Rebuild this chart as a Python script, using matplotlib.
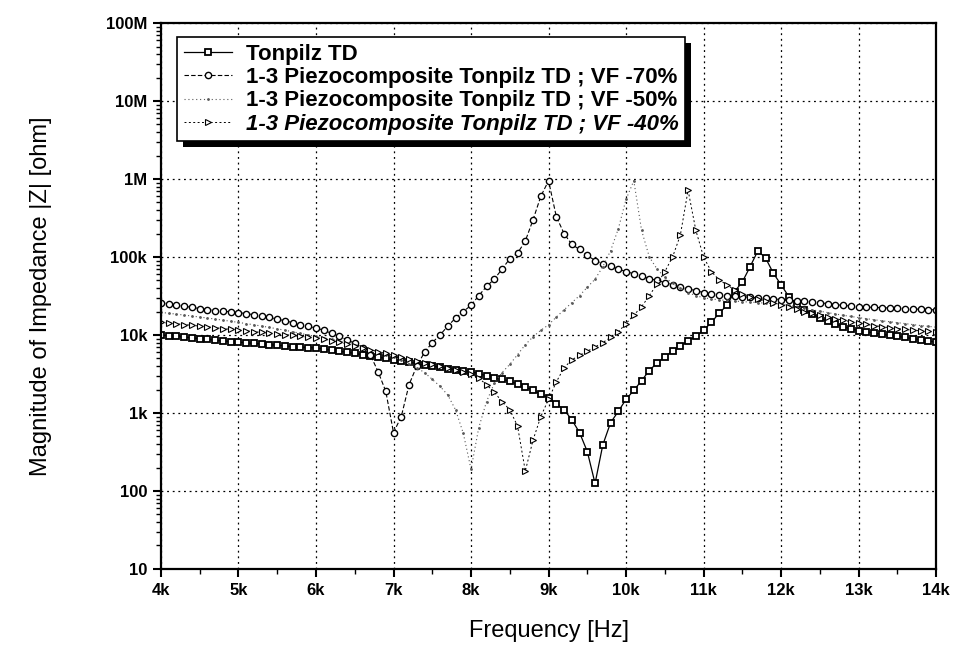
"""Impedance magnitude vs frequency: Tonpilz TD and 1-3 piezocomposite variants."""

import matplotlib
matplotlib.use("Agg")
import matplotlib.pyplot as plt
from matplotlib.patches import Rectangle
from matplotlib.ticker import FixedLocator, LogLocator, NullFormatter
import numpy as np

# Frequency axis in kHz, 100 Hz step
freq_khz = [round(4.0 + 0.1 * i, 1) for i in range(101)]

tonpilz = [
    10000, 9800, 9600, 9400, 9200, 9000, 8800, 8600, 8400, 8250,
    8100, 7950, 7800, 7650, 7500, 7400, 7250, 7100, 7000, 6900,
    6800, 6600, 6400, 6200, 6000, 5800, 5600, 5400, 5200, 5000,
    4800, 4650, 4500, 4300, 4100, 4000, 3850, 3700, 3600, 3500,
    3400, 3200, 3000, 2850, 2700, 2550, 2350, 2150, 1950, 1750,
    1550, 1300, 1100, 820, 560, 320, 125, 390, 750, 1050,
    1500, 1950, 2600, 3500, 4400, 5200, 6300, 7200, 8500, 9600,
    11500, 14500, 19000, 24000, 36000, 48000, 75000, 120000, 97000, 62000,
    44000, 31000, 25000, 21000, 18500, 16500, 15000, 13800, 12800, 12000,
    11400, 11000, 10600, 10200, 9900, 9600, 9300, 9000, 8700, 8400,
    8100,
]

vf70 = [
    26000, 25000, 24200, 23400, 22600, 21800, 21200, 20600, 20200, 19800,
    19400, 18800, 18200, 17500, 16800, 16000, 15200, 14400, 13600, 12900,
    12300, 11500, 10500, 9600, 8700, 7800, 6900, 5600, 3400, 1900,
    560, 900, 2300, 4000, 6000, 8000, 10000, 13000, 16500, 20000,
    24000, 32000, 42000, 52000, 70000, 95000, 112000, 160000, 300000, 600000,
    950000, 330000, 200000, 145000, 125000, 105000, 90000, 82000, 76000, 70000,
    65000, 61000, 57000, 53000, 50000, 47000, 44000, 41000, 39000, 37000,
    35000, 34000, 33000, 32000, 31500, 31000, 30500, 30000, 29500, 29000,
    28500, 28000, 27500, 27000, 26500, 26000, 25200, 24500, 24000, 23500,
    23000, 22800, 22600, 22400, 22200, 22000, 21800, 21600, 21400, 21200,
    21000,
]

vf50 = [
    19500, 19000, 18500, 18000, 17500, 17000, 16500, 16000, 15500, 15000,
    14500, 14000, 13500, 13000, 12500, 12000, 11500, 11000, 10500, 10000,
    9600, 9200, 8800, 8400, 8000, 7500, 7000, 6500, 6000, 5600,
    5200, 4800, 4300, 3800, 3300, 2700, 2200, 1700, 1100, 550,
    190, 650, 1400, 2400, 3300, 4200, 5600, 7500, 9500, 11500,
    13500, 17000, 21000, 26000, 32000, 41000, 52000, 75000, 120000, 230000,
    550000, 950000, 220000, 100000, 70000, 55000, 46000, 40000, 35000, 32000,
    30000, 29000, 28300, 27700, 27200, 26800, 26400, 26000, 25600, 25300,
    25000, 24000, 23000, 22000, 21000, 20200, 19400, 18600, 17900, 17300,
    16700, 16200, 15700, 15200, 14800, 14400, 14000, 13600, 13200, 12900,
    12600,
]

vf40 = [
    14500, 14200, 13900, 13600, 13300, 13000, 12700, 12400, 12100, 11800,
    11500, 11300, 11000, 10800, 10500, 10300, 10100, 9900, 9600, 9400,
    9200, 8900, 8500, 8100, 7700, 7300, 6900, 6500, 6100, 5800,
    5500, 5200, 4900, 4600, 4400, 4200, 4000, 3800, 3600, 3400,
    3150, 2800, 2300, 1850, 1400, 1100, 680, 180, 450, 900,
    1500, 2500, 3800, 4800, 5500, 6200, 7000, 8000, 9300, 11000,
    14000, 18000, 23000, 32000, 45000, 65000, 100000, 190000, 720000, 220000,
    100000, 65000, 51000, 44000, 38000, 34000, 31000, 29000, 27500, 26000,
    24500, 23000, 21500, 20000, 19000, 18000, 17000, 16200, 15500, 14800,
    14200, 13700, 13200, 12800, 12400, 12100, 11800, 11500, 11300, 11100,
    10900,
]

x_ticks = [4, 5, 6, 7, 8, 9, 10, 11, 12, 13, 14]
x_tick_labels = ["4k", "5k", "6k", "7k", "8k", "9k", "10k", "11k", "12k", "13k", "14k"]
y_ticks = [10, 100, 1e3, 1e4, 1e5, 1e6, 1e7, 1e8]
y_tick_labels = ["10", "100", "1k", "10k", "100k", "1M", "10M", "100M"]

labels = [
    "Tonpilz TD",
    "1-3 Piezocomposite Tonpilz TD ; VF -70%",
    "1-3 Piezocomposite Tonpilz TD ; VF -50%",
    "1-3 Piezocomposite Tonpilz TD ; VF -40%",
]

plt.rcParams["font.family"] = ["Liberation Sans", "DejaVu Sans"]

fig = plt.figure(figsize=(9.72, 6.58), dpi=100)
ax = fig.add_axes([0.1656, 0.1353, 0.7975, 0.8297])

ax.plot(freq_khz, tonpilz, color="black", lw=0.9, ls="-", marker="s",
        ms=5, mfc="white", mec="black", mew=1.3, label=labels[0])
ax.plot(freq_khz, vf70, color="black", lw=0.8, ls=(0, (4, 2)), marker="o",
        ms=4.5, mfc="white", mec="black", mew=1.0, label=labels[1])
ax.plot(freq_khz, vf50, color="0.35", lw=0.8, ls=(0, (1, 2.5)), marker=".",
        ms=2.0, mfc="0.35", mec="0.35", label=labels[2])
ax.plot(freq_khz, vf40, color="black", lw=0.7, ls=(0, (2, 2.5)), marker=">",
        ms=4.0, mfc="white", mec="black", mew=0.8, label=labels[3])

ax.set_yscale("log")
ax.set_xlim(4, 14)
ax.set_ylim(10, 1e8)

ax.xaxis.set_major_locator(FixedLocator(x_ticks))
ax.set_xticklabels(x_tick_labels, fontsize=12, fontweight="bold")
ax.xaxis.set_minor_locator(FixedLocator(np.arange(4.5, 14, 1.0)))
ax.set_yticks(y_ticks)
ax.set_yticklabels(y_tick_labels, fontsize=12, fontweight="bold")
ax.yaxis.set_minor_locator(LogLocator(base=10, subs=np.arange(2, 10), numticks=20))
ax.yaxis.set_minor_formatter(NullFormatter())

ax.tick_params(which="major", direction="out", length=6, width=1.5, pad=4)
ax.tick_params(which="minor", direction="out", length=3.5, width=1.0)
ax.tick_params(axis="both", which="both", top=False, right=False)

for side in ["left", "bottom", "right", "top"]:
    ax.spines[side].set_linewidth(1.6)

ax.grid(which="major", color="black", ls=(0, (1.5, 3)), lw=0.9)
ax.set_axisbelow(True)

ax.set_xlabel("Frequency [Hz]", fontsize=17)
ax.set_ylabel("Magnitude of Impedance |Z| [ohm]", fontsize=17)
ax.xaxis.set_label_coords(0.5, -0.094)
ax.yaxis.set_label_coords(-0.14, 0.5)

leg = ax.legend(loc="upper left", bbox_to_anchor=(0.0206, 0.974), fontsize=16,
                frameon=True, fancybox=False, edgecolor="black",
                facecolor="white", framealpha=1.0,
                handlelength=2.2, handletextpad=0.6, borderpad=0.3,
                labelspacing=0.1, borderaxespad=0)
leg.get_frame().set_linewidth(1.2)
leg.set_zorder(6)
for txt in leg.get_texts():
    txt.set_fontweight("bold")
leg.get_texts()[3].set_style("italic")

# Black drop shadow behind the legend box
fig.canvas.draw()
bb = leg.get_window_extent().transformed(fig.transFigure.inverted())
dx, dy = 6 / 972, 6 / 658
shadow = Rectangle((bb.x0 + dx, bb.y0 - dy), bb.width, bb.height,
                   transform=fig.transFigure, facecolor="black",
                   edgecolor="none", zorder=5, clip_on=False)
ax.add_artist(shadow)

fig.savefig("out.png", dpi=100, facecolor="white")
plt.close(fig)
